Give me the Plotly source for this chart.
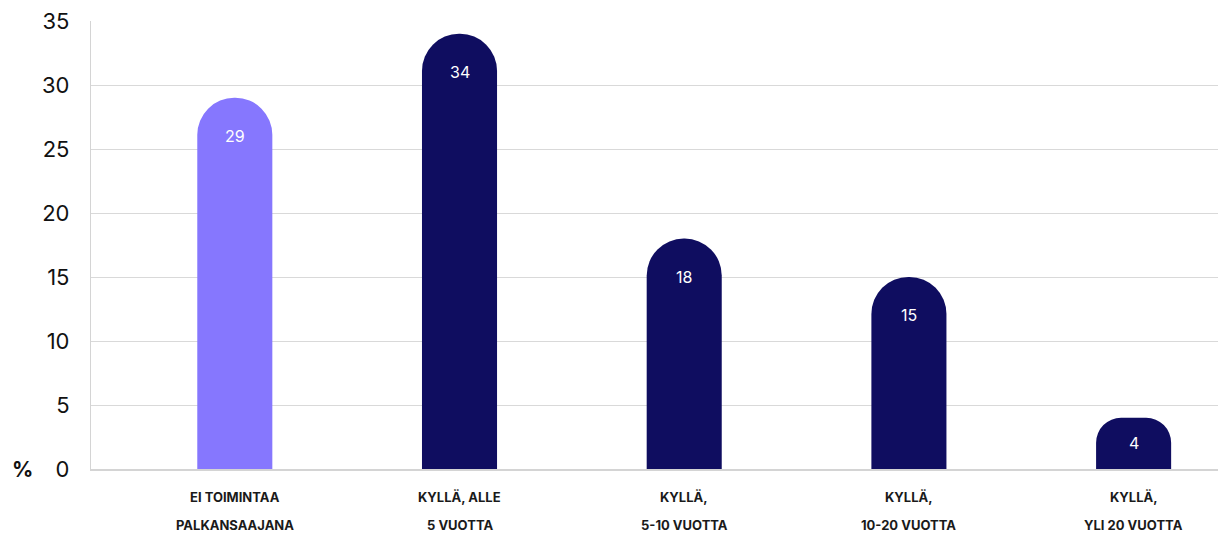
import plotly.graph_objects as go

categories = ["ei_toimintaa", "alle_5", "5_10", "10_20", "yli_20"]
label_line1 = ["EI TOIMINTAA", "KYLLÄ, ALLE", "KYLLÄ,", "KYLLÄ,", "KYLLÄ,"]
label_line2 = ["PALKANSAAJANA", "5 VUOTTA", "5-10 VUOTTA", "10-20 VUOTTA", "YLI 20 VUOTTA"]
values = [29, 34, 18, 15, 4]
bar_colors = ["#8677FE", "#0F0D60", "#0F0D60", "#0F0D60", "#0F0D60"]
y_ticks = [0, 5, 10, 15, 20, 25, 30, 35]

FONT = "Inter, 'Open Sans', sans-serif"
PX_PER_UNIT = 448 / 35.0
BAR_RADIUS = 37
# page body has an 8px default margin, so the figure is offset by 8px
W, H = 1218, 528
ML, MR, MT, MB = 83, 7, 13, 67
PLOT_W = W - ML - MR

fig = go.Figure()
for c, v, col in zip(categories, values, bar_colors):
    h = v * PX_PER_UNIT
    r = int(min(BAR_RADIUS, h / 2))
    fig.add_trace(go.Bar(
        x=[c], y=[v],
        marker=dict(color=col, cornerradius=r, line=dict(width=0)),
        hoverinfo="skip",
    ))

annotations = []
for c, v in zip(categories, values):
    off = min(38, v * PX_PER_UNIT / 2)
    annotations.append(dict(x=c, y=v, xref="x", yref="y", text=str(v), showarrow=False,
                            yshift=-off, yanchor="middle",
                            font=dict(family=FONT, size=16, color="white")))
for c, l1, l2 in zip(categories, label_line1, label_line2):
    annotations.append(dict(x=c, y=0, xref="x", yref="y", text="<b>%s</b>" % l1, showarrow=False,
                            yshift=-28, yanchor="middle",
                            font=dict(family=FONT, size=13, color="#1a1a1a")))
    annotations.append(dict(x=c, y=0, xref="x", yref="y", text="<b>%s</b>" % l2, showarrow=False,
                            yshift=-56, yanchor="middle",
                            font=dict(family=FONT, size=13, color="#1a1a1a")))
annotations.append(dict(x=-69 / PLOT_W, y=0, xref="paper", yref="y", text="<b>%</b>",
                        showarrow=False, xanchor="center", yanchor="middle",
                        font=dict(family=FONT, size=21, color="#111111")))

fig.update_layout(
    width=W, height=H,
    margin=dict(l=ML, r=MR, t=MT, b=MB, autoexpand=False),
    paper_bgcolor="white", plot_bgcolor="white",
    showlegend=False,
    barmode="overlay",
    annotations=annotations,
    shapes=[dict(type="line", xref="paper", yref="y", x0=1, x1=1, y0=0, y1=1,
                 line=dict(color="#d4d4d4", width=1.5))],
    xaxis=dict(showticklabels=False, showgrid=False, zeroline=False, automargin=False,
               showline=True, linecolor="#d4d4d4", linewidth=1.5, ticks="",
               range=[-0.64, 4.38]),
    yaxis=dict(range=[0, 35], tickvals=y_ticks, showgrid=True, gridcolor="#d9d9d9",
               gridwidth=1.2, zeroline=False, showline=True, linecolor="#d4d4d4",
               linewidth=1.2, ticks="", ticklabelstandoff=16, automargin=False,
               ticklabeloverflow="allow",
               tickfont=dict(family=FONT, size=22, color="#111111")),
)
fig.update_traces(width=0.334)

fig.write_html("out.html")
